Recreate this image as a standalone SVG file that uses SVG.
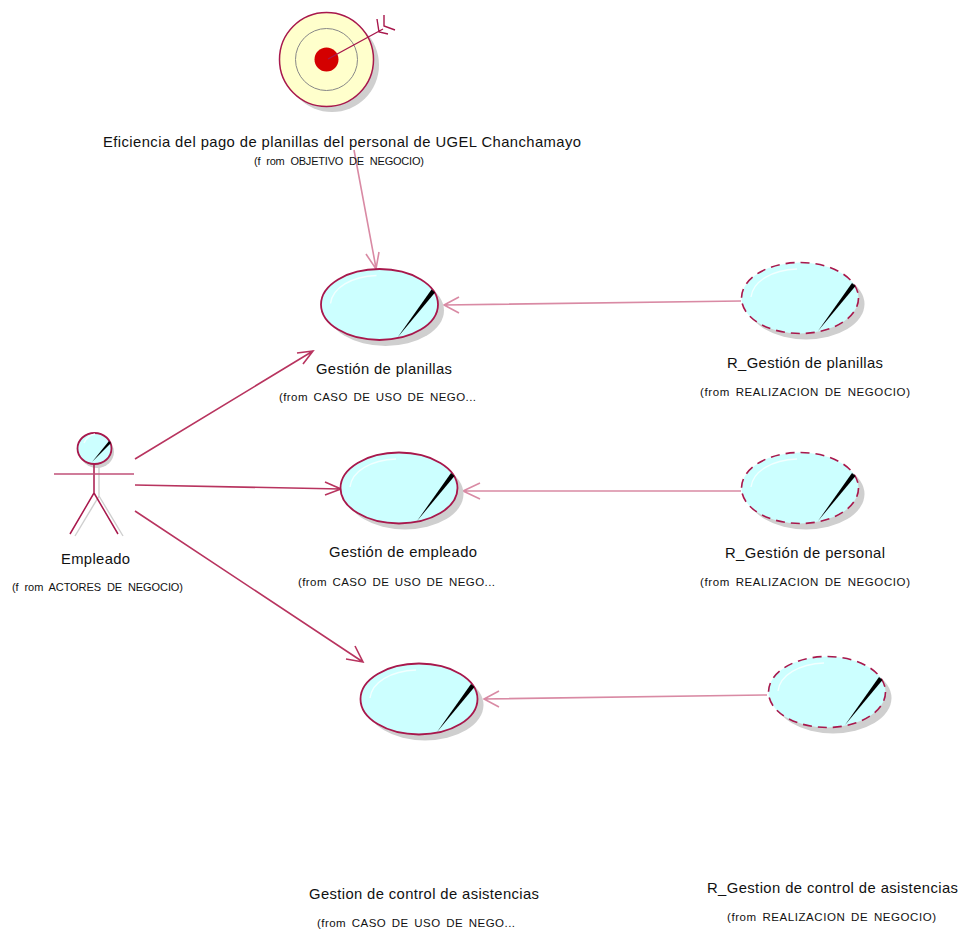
<svg xmlns="http://www.w3.org/2000/svg" width="966" height="930" viewBox="0 0 966 930">
<style>
text{font-family:"Liberation Sans",Arial,sans-serif;fill:#111}
.n{font-size:14.8px;text-anchor:middle}
.s{font-size:11.500px;text-anchor:middle;word-spacing:2px}
.f{font-size:11px;text-anchor:middle;word-spacing:3px}
.sh{fill:#cfcfcf;stroke:none}
.uc{fill:#ccffff;stroke:#a8184c;stroke-width:1.800}
.ud{fill:none;stroke:#a8184c;stroke-width:1.600;stroke-dasharray:9 6}
.hl{fill:none;stroke:#f2ffff;stroke-width:1.400}
.c{fill:none;stroke:#b8345f;stroke-width:1.600}
.l{fill:none;stroke:#d98aa4;stroke-width:1.600}
.m{fill:none;stroke:#a8184c;stroke-width:1.400}
</style>
<defs>
<g id="uglint">
<path class="hl" d="M-49 -1C-47 -17-28 -28-3 -29"/>
<polygon points="18,33 52,-15 55.500,-12" fill="#000"/>
</g>
<g id="uc"><ellipse class="sh" cx="6" cy="6" rx="58.500" ry="35.500"/><ellipse class="uc" rx="58.500" ry="35.500"/><use href="#uglint"/></g>
<g id="ud"><ellipse class="sh" cx="6" cy="6" rx="58.500" ry="35.500"/><ellipse rx="58.500" ry="35.500" fill="#ccffff"/><ellipse class="ud" rx="58.500" ry="35.500"/><use href="#uglint"/></g>
</defs>

<g id="connectors">
<path class="l" d="M354 150L376 268M366 254L376 269L379 252"/>
<path class="l" d="M741 301L444 305M459 297L444 305L459 313"/>
<path class="l" d="M741 491L463 491M480 483L463 491L480 499"/>
<path class="l" d="M767 695L484 699M499 691L484 699L499 707"/>
<path class="c" d="M135 459L313 351M297 353L313 351L303 364"/>
<path class="c" d="M135 485L341 489M325 482L341 489L325 495"/>
<path class="c" d="M135 511L363 662M346 659L363 662L355 646"/>
</g>

<g id="objetivo">
<circle cx="332" cy="65" r="47" class="sh"/>
<circle cx="326.500" cy="59.500" r="47" fill="#ffffcc" stroke="#a8184c" stroke-width="1.500"/>
<circle cx="326.500" cy="59.500" r="31" fill="none" stroke="#888" stroke-width="1"/>
<circle cx="326.500" cy="59.500" r="12" fill="#d40000"/>
<path class="m" d="M328 59L383 29M377 19L379 32L388 34M384 15L384 26L395 30"/>
<text class="n" x="342" y="147" textLength="478" lengthAdjust="spacing">Eficiencia del pago de planillas del personal de UGEL Chanchamayo</text>
<text class="f" x="339" y="165" textLength="170" lengthAdjust="spacing">(f rom  OBJETIVO DE NEGOCIO)</text>
</g>

<g id="gestion-planillas"><use href="#uc" x="379.500" y="304.500"/>
<text class="n" x="384" y="374" textLength="136" lengthAdjust="spacing">Gestión de planillas</text><text class="s" x="377.500" y="401" textLength="197" lengthAdjust="spacing">(from  CASO DE USO DE NEGO...</text></g>
<g id="gestion-empleado"><use href="#uc" x="399" y="488"/>
<text class="n" x="403" y="557" textLength="148" lengthAdjust="spacing">Gestión de empleado</text><text class="s" x="396.500" y="586" textLength="197" lengthAdjust="spacing">(from  CASO DE USO DE NEGO...</text></g>
<g id="gestion-control"><use href="#uc" x="419" y="699"/>
<text class="n" x="424" y="899" textLength="230" lengthAdjust="spacing">Gestion de control de asistencias</text><text class="s" x="416" y="927" textLength="198" lengthAdjust="spacing">(from  CASO DE USO DE NEGO...</text></g>

<g id="r-planillas"><use href="#ud" x="800" y="298"/>
<text class="n" x="805" y="368" textLength="156" lengthAdjust="spacing">R_Gestión de planillas</text><text class="s" x="805" y="396" textLength="210" lengthAdjust="spacing">(from  REALIZACION DE NEGOCIO)</text></g>
<g id="r-personal"><use href="#ud" x="800" y="488"/>
<text class="n" x="805" y="558" textLength="160" lengthAdjust="spacing">R_Gestión de personal</text><text class="s" x="805" y="586" textLength="210" lengthAdjust="spacing">(from  REALIZACION DE NEGOCIO)</text></g>
<g id="r-control"><use href="#ud" x="827" y="692"/>
<text class="n" x="832.500" y="893" textLength="251" lengthAdjust="spacing">R_Gestion de control de asistencias</text><text class="s" x="831.500" y="921" textLength="209" lengthAdjust="spacing">(from  REALIZACION DE NEGOCIO)</text></g>

<g id="empleado">
<path d="M99 464V496L75 536M99 496L123 536" fill="none" stroke="#cfcfcf" stroke-width="1.400"/>
<ellipse cx="97" cy="452" rx="17" ry="16" class="sh"/>
<path d="M94 464V493L70 534M94 493L118 534" fill="none" stroke="#a8184c" stroke-width="1.500"/>
<path d="M54 474H134" stroke="#c05078" stroke-width="1.400" fill="none"/>
<ellipse cx="94.500" cy="448.500" rx="17" ry="15.500" fill="#ccffff" stroke="#a8184c" stroke-width="1.800"/>
<path d="M84 443C86 438 90 435 95 434" class="hl"/>
<polygon points="92,462 109,441 111,443" fill="#000"/>
<text class="n" x="95.500" y="564" textLength="69" lengthAdjust="spacing">Empleado</text>
<text class="f" x="97.500" y="591" textLength="171" lengthAdjust="spacing">(f rom  ACTORES DE NEGOCIO)</text>
</g>
</svg>
